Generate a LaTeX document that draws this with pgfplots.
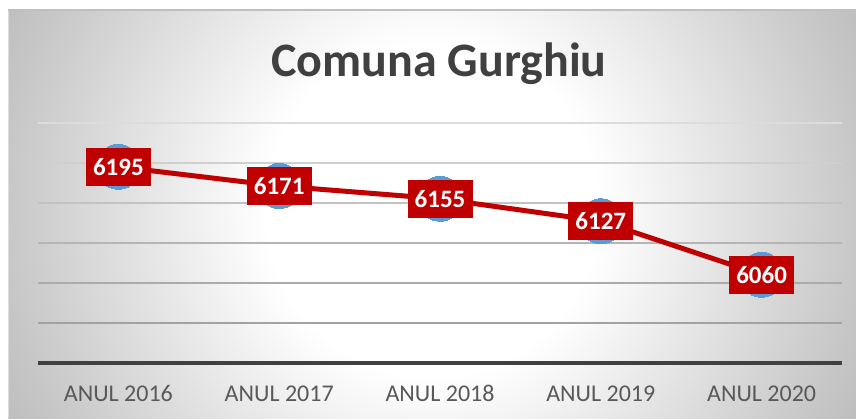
\documentclass[border=0pt]{standalone}
\usepackage{pgfplots}
\pgfplotsset{compat=1.18}
\usepackage{pgfplotstable}
\usepackage{fontspec}
\setmainfont{Carlito}
\definecolor{darkred}{HTML}{C00000}
\definecolor{mblue}{HTML}{5B9BD5}
\definecolor{titlegray}{HTML}{404040}
\definecolor{tickgray}{HTML}{595959}
\definecolor{edgegray}{HTML}{C8C8C8}
\definecolor{cornergray}{HTML}{BCBCBC}
\definecolor{bordergray}{HTML}{BFBFBF}
\definecolor{gA}{HTML}{DCDCDC}
\definecolor{gB}{HTML}{CFCFCF}
\definecolor{gC}{HTML}{C2C2C2}
\definecolor{gD}{HTML}{B5B5B5}
\definecolor{gE}{HTML}{ABABAB}
\definecolor{gF}{HTML}{A2A2A2}
\pgfdeclareradialshading{bgshade}{\pgfpointorigin}{color(0bp)=(white); color(165bp)=(white); color(420bp)=(edgegray); color(480bp)=(cornergray)}

\pgfplotstableread{
x y
0 6195
1 6171
2 6155
3 6127
4 6060
}\datatable

\begin{document}
\begin{tikzpicture}
\path[use as bounding box, fill=white] (0pt,0pt) rectangle (856pt,418pt);
\begin{scope}
\clip (8pt,0pt) rectangle (856pt,408pt);
\node[inner sep=0pt, outer sep=0pt] at (432pt,208pt) {\pgfuseshading{bgshade}};
\end{scope}
\draw[line width=2pt, color=bordergray] (8pt,407.5pt) -- (856pt,407.5pt);
\draw[line width=1pt, color=gA] (8.5pt,0pt) -- (8.5pt,407pt);
\node[anchor=base, font=\bfseries\fontsize{48}{48}\selectfont, text=titlegray] at (439pt,341.3pt) {Comuna Gurghiu};
\begin{axis}[
  at={(38pt,55.2pt)}, anchor=south west,
  scale only axis, width=804pt, height=240pt,
  xmin=-0.5, xmax=4.5, ymin=5950, ymax=6250,
  axis y line=none,
  axis x line*=bottom,
  x axis line style={line width=3.5pt, color=titlegray},
  xtick={0,1,2,3,4},
  xticklabels={ANUL 2016, ANUL 2017, ANUL 2018, ANUL 2019, ANUL 2020},
  major tick length=0pt,
  xticklabel style={font=\fontsize{24}{24}\selectfont, text=tickgray, anchor=base, yshift=-39pt},
  ytick=\empty,
  clip=false,
]
\draw[line width=1.5pt, color=gA] (axis cs:-0.5,6250) -- (axis cs:4.5,6250);
\draw[line width=1.5pt, color=gB] (axis cs:-0.5,6200) -- (axis cs:4.5,6200);
\draw[line width=1.5pt, color=gC] (axis cs:-0.5,6150) -- (axis cs:4.5,6150);
\draw[line width=1.5pt, color=gD] (axis cs:-0.5,6100) -- (axis cs:4.5,6100);
\draw[line width=1.5pt, color=gE] (axis cs:-0.5,6050) -- (axis cs:4.5,6050);
\draw[line width=1.5pt, color=gF] (axis cs:-0.5,6000) -- (axis cs:4.5,6000);
\addplot[only marks, mark=*, mark size=22.5pt, color=mblue, mark options={fill=mblue, draw=mblue, line width=0pt}] table[x=x, y=y] {\datatable};
\addplot[color=darkred, line width=5pt, mark=none] table[x=x, y=y] {\datatable};
\addplot[draw=none, mark=none,
  point meta=explicit symbolic,
  nodes near coords={\pgfplotspointmeta},
  every node near coord/.append style={anchor=center, fill=darkred, text=white,
     font=\bfseries\fontsize{25}{25}\selectfont, inner sep=0pt,
     minimum width=65pt, minimum height=38pt},
] table[x=x, y=y, meta=y] {\datatable};
\end{axis}
\end{tikzpicture}
\end{document}
